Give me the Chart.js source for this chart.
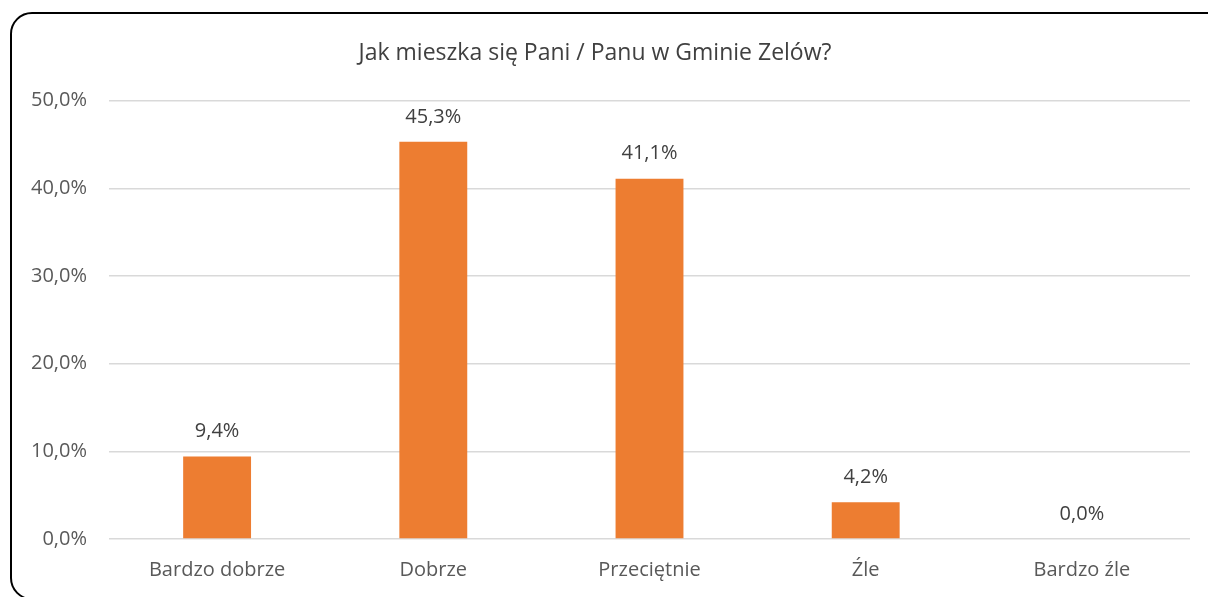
<!DOCTYPE html>
<html>
<head>
<meta charset="utf-8">
<script src="https://cdn.jsdelivr.net/npm/chart.js@4/dist/chart.umd.min.js"></script>
<style>
  body { margin: 0; background: #fff; }
  #wrap { position: relative; width: 1208px; height: 597px; overflow: hidden; }
  #frame {
    position: absolute; left: 10px; top: 12px; width: 1220px; height: 584px;
    border: 2px solid #000; border-radius: 22px; pointer-events: none;
  }
</style>
</head>
<body>
<div id="wrap">
  <canvas id="barChart" width="1208" height="597"></canvas>
  <div id="frame"></div>
</div>
<script>
const chartTitle = 'Jak mieszka się Pani / Panu w Gminie Zelów?';
const categories = ['Bardzo dobrze', 'Dobrze', 'Przeciętnie', 'Źle', 'Bardzo źle'];
const shares = [9.4, 45.3, 41.1, 4.2, 0.0];
const yTicks = [0, 10, 20, 30, 40, 50];

const fontFamily = '"Open Sans", "Noto Sans", sans-serif';

function pct(v) {
  return v.toFixed(1).replace('.', ',') + '%';
}

// draw the value above each bar
const valueLabels = {
  id: 'valueLabels',
  afterDatasetsDraw: function (chart) {
    const ctx = chart.ctx;
    const meta = chart.getDatasetMeta(0);
    ctx.save();
    ctx.font = '20px ' + fontFamily;
    ctx.fillStyle = '#404040';
    ctx.textAlign = 'center';
    ctx.textBaseline = 'middle';
    meta.data.forEach(function (bar, i) {
      ctx.fillText(pct(shares[i]), bar.x, bar.y - 25);
    });
    ctx.restore();
  }
};

const chart = new Chart(document.getElementById('barChart'), {
  type: 'bar',
  data: {
    labels: categories,
    datasets: [{
      data: shares,
      backgroundColor: '#ED7D31',
      categoryPercentage: 1,
      barPercentage: 0.314
    }]
  },
  options: {
    responsive: false,
    animation: false,
    layout: { padding: { left: 0, right: 18, top: 0, bottom: 0 } },
    plugins: {
      legend: { display: false },
      tooltip: { enabled: false },
      title: {
        display: true,
        text: chartTitle,
        color: '#404040',
        font: { family: fontFamily, size: 23, weight: 'normal' },
        padding: { top: 40, bottom: 33 }
      }
    },
    scales: {
      x: {
        grid: { display: false, drawTicks: false },
        border: { display: false },
        ticks: {
          color: '#595959',
          padding: 19,
          font: { family: fontFamily, size: 20 }
        },
        afterFit: function (s) { s.height = 58; }
      },
      y: {
        min: 0,
        max: 50,
        afterBuildTicks: function (s) {
          s.ticks = yTicks.map(function (v) { return { value: v }; });
        },
        grid: { color: '#d9d9d9', lineWidth: 1.5, drawTicks: false },
        border: { display: false },
        ticks: {
          color: '#595959',
          padding: 22,
          font: { family: fontFamily, size: 20 },
          callback: function (v) { return pct(v); }
        },
        afterFit: function (s) { s.width = 109; }
      }
    }
  },
  plugins: [valueLabels]
});
</script>
</body>
</html>
